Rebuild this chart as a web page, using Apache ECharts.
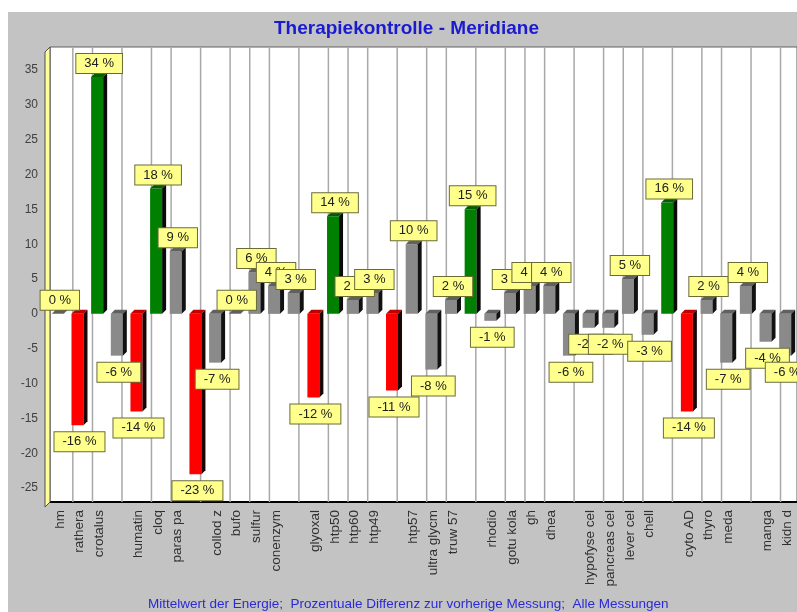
<!DOCTYPE html>
<html>
<head>
<meta charset="utf-8">
<script src="https://cdn.jsdelivr.net/npm/echarts@6/dist/echarts.min.js"></script>
<style>
html, body { margin: 0; padding: 0; background: #fff; }
#chart { width: 797px; height: 612px; }
</style>
</head>
<body>
<div id="chart"></div>
<script>
// categories in plot order (empty = no label shown in the original)
var categories = ['hm', 'rathera', 'crotalus', '', 'humatin', 'cloq', 'paras pa', '', 'collod z', 'bufo',
  'sulfur', 'conenzym', '', 'glyoxal', 'htp50', 'htp60', 'htp49', '', 'htp57', 'ultra glycm',
  'truw 57', '', 'rhodio', 'gotu kola', 'gh', 'dhea', '', 'hypofyse cel', 'pancreas cel', 'lever cel',
  'chell', '', 'cyto AD', 'thyro', 'meda', '', 'manga', 'kidn d'];
var values = [0, -16, 34, -6, -14, 18, 9, -23, -7, 0,
  6, 4, 3, -12, 14, 2, 3, -11, 10, -8,
  2, 15, -1, 3, 4, 4, -6, -2, -2, 5,
  -3, 16, -14, 2, -7, 4, -4, -6];
var yTicks = [-25, -20, -15, -10, -5, 0, 5, 10, 15, 20, 25, 30, 35];
// vertical wall lines, in category units
var gridPos = [0, 1, 2.5, 4, 5, 6.5, 8, 9, 10, 11.5, 13, 14, 15, 16.5, 18, 19, 20.5,
  22, 23, 24, 25.5, 27, 28, 29, 30.5, 32, 33, 34.5, 36];

var chart = echarts.init(document.getElementById('chart'));

function barColors(v) {
  if (v > 10) return ['#008000', '#006000', '#0a0a0a'];
  if (v < -10) return ['#ff0000', '#c00000', '#1a0505'];
  return ['#8a8a8a', '#606060', '#111111'];
}

function renderBar(params, api) {
  var i = api.value(0), v = api.value(1);
  var p = api.coord([i, v]), b = api.coord([i, 0]);
  var cx = p[0];
  var top = Math.min(p[1], b[1]), bot = Math.max(p[1], b[1]);
  var c = barColors(v), d = 4;
  var x0 = cx - 8, x1 = cx + 4;
  var ly = v >= 0 ? top - 4 : bot + 7;
  return {
    type: 'group',
    children: [
      { type: 'rect', shape: { x: x0, y: top, width: x1 - x0, height: bot - top }, style: { fill: c[0] } },
      { type: 'polygon', shape: { points: [[x0, top], [x0 + d, top - d], [x1 + d, top - d], [x1, top]] }, style: { fill: c[1] } },
      { type: 'polygon', shape: { points: [[x1, top], [x1 + d, top - d], [x1 + d, bot - d], [x1, bot]] }, style: { fill: c[2] } },
      {
        type: 'text', z2: 100 + i, x: cx, y: ly,
        style: {
          text: v + ' %', align: 'center', verticalAlign: v >= 0 ? 'bottom' : 'top',
          fill: '#202020', font: '13px "Liberation Sans", Arial, sans-serif',
          backgroundColor: '#ffff8c', borderColor: '#6b6b3a', borderWidth: 1, padding: [3, 8]
        }
      }
    ]
  };
}

function renderGrid(params, api) {
  var x = api.coord([api.value(0), 0])[0] + 13;
  var cs = params.coordSys;
  return {
    type: 'line',
    shape: { x1: x, y1: cs.y, x2: x, y2: cs.y + cs.height },
    style: { stroke: '#a8a8a8', lineWidth: 1.5 }
  };
}

chart.setOption({
  backgroundColor: '#c3c3c3',
  animation: false,
  title: [{
    text: 'Therapiekontrolle - Meridiane',
    left: 274, top: 19, padding: 0,
    textStyle: { color: '#1a1ad0', fontSize: 19, fontWeight: 'bold', fontFamily: 'Liberation Sans' }
  }, {
    text: 'Mittelwert der Energie;  Prozentuale Differenz zur vorherige Messung;  Alle Messungen',
    left: 148, top: 597, padding: 0,
    textStyle: { color: '#2a2ad8', fontSize: 13.5, fontWeight: 'normal', fontFamily: 'Liberation Sans' }
  }],
  graphic: [
    { type: 'rect', shape: { x: 0, y: 0, width: 797, height: 12 }, style: { fill: '#ffffff' } },
    { type: 'rect', shape: { x: 0, y: 0, width: 8, height: 612 }, style: { fill: '#ffffff' } },
    { type: 'polygon', z: 10, shape: { points: [[45, 52], [50, 47], [50, 502], [45, 507]] },
      style: { fill: '#ffff99', stroke: '#505050', lineWidth: 1 } }
  ],
  grid: {
    left: 50, right: 0, top: 47, bottom: 110,
    show: true, backgroundColor: '#ffffff', borderColor: '#606060', borderWidth: 1
  },
  xAxis: [{
    type: 'category', data: categories,
    axisLine: { onZero: false, lineStyle: { color: '#000000', width: 2 } },
    axisTick: { show: false },
    axisLabel: { rotate: 90, interval: 0, fontSize: 13.5, color: '#303030', margin: 8, fontFamily: 'Liberation Sans' },
    splitLine: { show: false }
  }, {
    type: 'value', min: -0.5, max: 37.5, show: false
  }],
  yAxis: {
    type: 'value', min: -27, max: 38.3,
    axisLine: { show: false }, axisTick: { show: false }, splitLine: { show: false },
    axisLabel: { customValues: yTicks, fontSize: 12, color: '#404040', margin: 12, fontFamily: 'Liberation Sans' }
  },
  series: [{
    type: 'custom', name: 'wall', z: 1, silent: true, xAxisIndex: 1,
    renderItem: renderGrid,
    data: gridPos.map(function (p) { return [p]; })
  }, {
    type: 'custom', name: 'Energie', z: 20, xAxisIndex: 0,
    renderItem: renderBar,
    encode: { x: 0, y: 1 },
    data: values.map(function (v, i) { return [i, v]; })
  }]
});
</script>
</body>
</html>
